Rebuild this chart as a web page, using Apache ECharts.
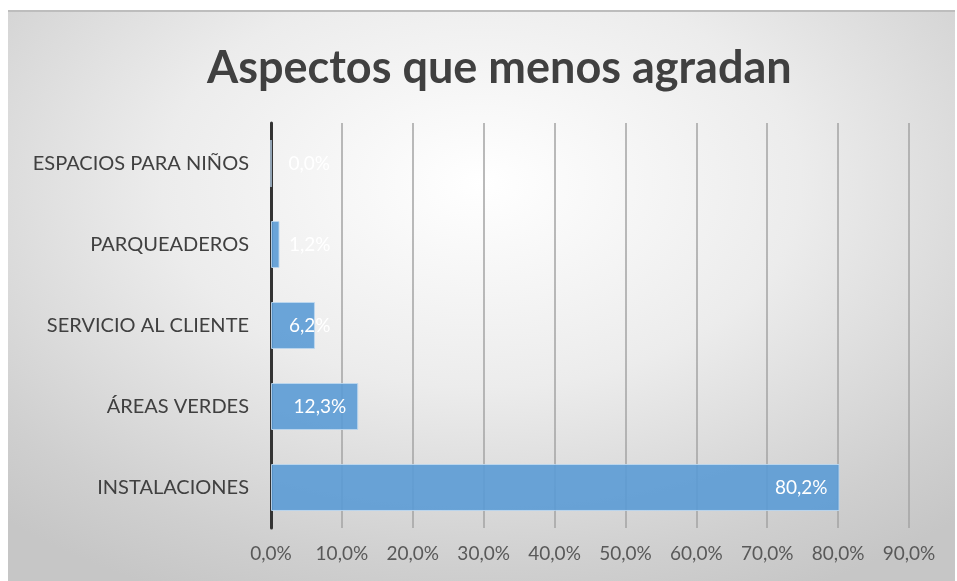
<!DOCTYPE html>
<html>
<head>
<meta charset="utf-8">
<script src="https://cdn.jsdelivr.net/npm/echarts@6/dist/echarts.min.js"></script>
<style>
  html, body { margin: 0; padding: 0; background: #fff; }
  #chart {
    position: absolute;
    left: 8px;
    top: 10px;
    width: 947px;
    height: 571px;
    background: radial-gradient(ellipse 75% 80% at 50% 30%, #ffffff 0%, #ececec 45%, #cfcfcf 85%, #c6c6c6 100%);
    border-top: 2px solid #bdbdbd;
    box-sizing: border-box;
  }
</style>
</head>
<body>
<div id="chart"></div>
<script>
// datos (de abajo hacia arriba)
const categorias = ['INSTALACIONES', 'ÁREAS VERDES', 'SERVICIO AL CLIENTE', 'PARQUEADEROS', 'ESPACIOS PARA NIÑOS']
const porcentajes = [80.2, 12.3, 6.2, 1.2, 0.0]
const ejeMin = 0
const ejeMax = 90
const ejePaso = 10

const fmt = (v) => v.toFixed(1).replace('.', ',') + '%'

const chart = echarts.init(document.getElementById('chart'))

// etiquetas: dentro al final si cabe, si no junto al eje
const datos = porcentajes.map((v) => ({
  value: v,
  label: v >= 10
    ? { position: 'insideRight', distance: 12 }
    : { position: 'insideLeft', distance: 18 }
}))

const option = {
  backgroundColor: 'transparent',
  title: {
    text: 'Aspectos que menos agradan',
    left: 194,
    top: 29,
    textStyle: {
      fontFamily: 'Lato',
      fontSize: 45,
      fontWeight: 'bold',
      color: '#404040'
    }
  },
  grid: {
    left: 263,
    right: 46,
    top: 111,
    bottom: 53
  },
  xAxis: {
    type: 'value',
    min: ejeMin,
    max: ejeMax,
    interval: ejePaso,
    axisLine: { show: false },
    axisTick: { show: false },
    axisLabel: {
      formatter: (v) => fmt(v),
      fontFamily: 'Lato',
      fontSize: 19,
      color: '#595959',
      margin: 16
    },
    splitLine: {
      lineStyle: { color: '#a3a3a3', width: 1.5 }
    }
  },
  yAxis: {
    type: 'category',
    data: categorias,
    axisLine: {
      lineStyle: { color: '#333333', width: 3 }
    },
    axisTick: { show: false },
    axisLabel: {
      fontFamily: 'Lato',
      fontSize: 20,
      color: '#404040',
      margin: 22
    }
  },
  series: [
    {
      type: 'bar',
      data: datos,
      barWidth: '58%',
      itemStyle: {
        color: 'rgba(91,155,213,0.9)',
        borderColor: 'rgba(189,215,238,0.9)',
        borderWidth: 1
      },
      label: {
        show: true,
        formatter: (p) => fmt(p.value),
        color: '#ffffff',
        fontFamily: 'Lato',
        fontSize: 19
      }
    }
  ]
}

chart.setOption(option)
</script>
</body>
</html>
